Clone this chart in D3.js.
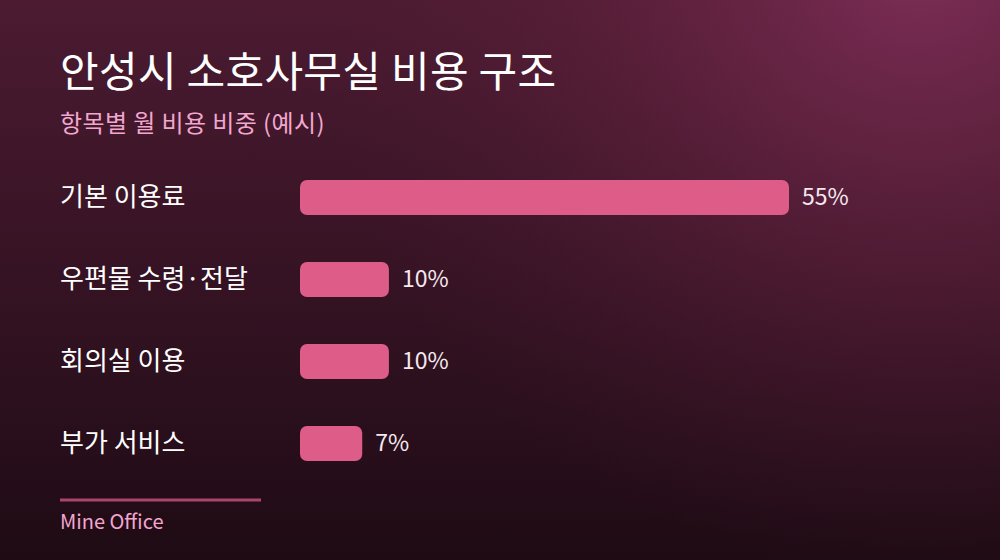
<!DOCTYPE html>
<html><head><meta charset="utf-8">
<script src="https://cdn.jsdelivr.net/npm/d3@7"></script>
<style>
html,body{margin:0;padding:0;background:#1e0b14;}
svg{display:block;}
text{font-family:"Noto Sans CJK KR","Noto Sans",sans-serif;}
</style></head>
<body>
<svg id="chart" width="1000" height="560"></svg>
<script>
const categories = ["기본 이용료", "우편물 수령·전달", "회의실 이용", "부가 서비스"];
const values = [55, 10, 10, 7];
const valueLabels = ["55%", "10%", "10%", "7%"];
const title = "안성시 소호사무실 비용 구조";
const subtitle = "항목별 월 비용 비중 (예시)";
const source = "Mine Office";

const svg = d3.select("#chart");
const W = 1000, H = 560;
const defs = svg.append("defs");
const lg = defs.append("linearGradient").attr("id","bgLin")
  .attr("x1","0").attr("y1","0").attr("x2","0").attr("y2","1");
lg.append("stop").attr("offset","0").attr("stop-color","#4c1b31");
lg.append("stop").attr("offset","0.55").attr("stop-color","#331222");
lg.append("stop").attr("offset","1").attr("stop-color","#1e0b14");
const rg = defs.append("radialGradient").attr("id","bgRad")
  .attr("gradientUnits","userSpaceOnUse").attr("cx",920).attr("cy",-40).attr("r",620);
rg.append("stop").attr("offset","0").attr("stop-color","#82305a").attr("stop-opacity",0.9);
rg.append("stop").attr("offset","0.5").attr("stop-color","#6a2444").attr("stop-opacity",0.45);
rg.append("stop").attr("offset","1").attr("stop-color","#4c1b31").attr("stop-opacity",0);

svg.append("rect").attr("width",W).attr("height",H).attr("fill","url(#bgLin)");
svg.append("rect").attr("width",W).attr("height",H).attr("fill","url(#bgRad)");

svg.append("text").attr("x",60).attr("y",87).attr("fill","#ffffff")
  .attr("font-size",42).attr("font-weight",400).attr("letter-spacing",0.3).text(title);
svg.append("text").attr("x",60).attr("y",132).attr("fill","#f2a7cf")
  .attr("font-size",24).attr("letter-spacing",0.4).text(subtitle);

const x = d3.scaleLinear().domain([0, 55]).range([300, 789]);
const y = d3.scalePoint().domain(categories).range([197.5, 443.5]);
const barH = 35;

const rows = svg.append("g").selectAll("g").data(categories).join("g");
rows.append("text").attr("x",60).attr("y",d=>y(d)+1).attr("fill","#ffffff")
  .attr("font-size",26).attr("dominant-baseline","middle").text(d=>d);
rows.append("rect").attr("x",x(0)).attr("y",d=>y(d)-barH/2)
  .attr("width",(d,i)=>x(values[i])-x(0)).attr("height",barH)
  .attr("rx",7).attr("fill","#de5d88");
rows.append("text").attr("x",(d,i)=>x(values[i])+13).attr("y",d=>y(d)+1)
  .attr("fill","#f6e8ef").attr("font-size",23).attr("dominant-baseline","middle")
  .text((d,i)=>valueLabels[i]);

svg.append("line").attr("x1",60).attr("x2",261).attr("y1",500).attr("y2",500)
  .attr("stroke","#a9466d").attr("stroke-width",3);
svg.append("text").attr("x",60).attr("y",529).attr("fill","#f2a7cf")
  .attr("font-size",20).text(source);
</script>
</body></html>
